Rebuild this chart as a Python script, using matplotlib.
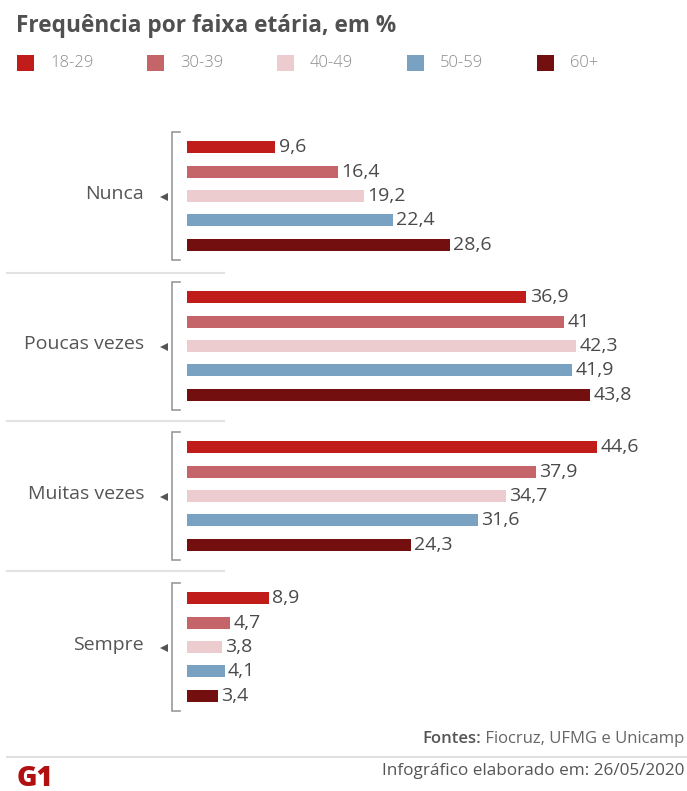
import matplotlib
matplotlib.use("Agg")
import matplotlib.pyplot as plt
from matplotlib.patches import Rectangle

plt.rcParams['font.family'] = ['Open Sans', 'DejaVu Sans']

categories = ["Nunca", "Poucas vezes", "Muitas vezes", "Sempre"]
age_groups = ["18-29", "30-39", "40-49", "50-59", "60+"]
values = {
    "18-29": [9.6, 36.9, 44.6, 8.9],
    "30-39": [16.4, 41, 37.9, 4.7],
    "40-49": [19.2, 42.3, 34.7, 3.8],
    "50-59": [22.4, 41.9, 31.6, 4.1],
    "60+":   [28.6, 43.8, 24.3, 3.4],
}
colors = {
    "18-29": "#C01D1A",
    "30-39": "#C5656A",
    "40-49": "#EDCCD0",
    "50-59": "#79A2C2",
    "60+":   "#73100F",
}
title = "Frequência por faixa etária, em %"
source_label = "Fontes:"
source_text = " Fiocruz, UFMG e Unicamp"
date_text = "Infográfico elaborado em: 26/05/2020"

W, H = 687, 791
fig = plt.figure(figsize=(W / 100, H / 100), dpi=100)
fig.patch.set_facecolor("white")

deco = fig.add_axes([0, 0, 1, 1])
deco.set_xlim(0, W)
deco.set_ylim(H, 0)
deco.axis("off")

x0 = 187
px_per_unit = 9.2
bar_ax = fig.add_axes([x0 / W, 0, (W - x0) / W, 1])
bar_ax.set_xlim(0, (W - x0) / px_per_unit)
bar_ax.set_ylim(H, 0)
bar_ax.axis("off")

group_centers = [196, 346, 496, 647]
row_step = 24.3
bar_h = 12

for gi, cat in enumerate(categories):
    c = group_centers[gi]
    for ai, ag in enumerate(age_groups):
        y = c + (ai - 2) * row_step
        v = values[ag][gi]
        bar_ax.barh(y, v, height=bar_h, color=colors[ag], edgecolor="none")
        lbl = f"{v:g}".replace(".", ",")
        bar_ax.text(v + 0.35, y, lbl, va="center", ha="left",
                    fontsize=14, color="#4a4a4a")
    deco.text(144, c - 2, cat, ha="right", va="center", fontsize=14, color="#555555")
    deco.plot([164], [c + 1], marker="<", markersize=6, color="#555555",
              markeredgewidth=0)
    top, bot = c - 64, c + 64
    deco.plot([180, 172, 172, 180], [top, top, bot, bot], color="#999999", lw=1.2,
              solid_joinstyle="miter")

for ys in [273, 421, 571]:
    deco.plot([7, 224], [ys, ys], color="#e2e2e2", lw=1.5)

deco.text(16, 32, title, ha="left", va="baseline", fontsize=16.3,
          fontweight="bold", color="#505050")

for i, ag in enumerate(age_groups):
    lx = 17 + 130 * i
    deco.add_patch(Rectangle((lx, 55), 17, 16, facecolor=colors[ag], edgecolor="none"))
    deco.text(lx + 33, 63, ag, ha="left", va="center", fontsize=12,
              color="#8a8a8a", fontweight="light")

t = deco.text(684, 739, source_text, ha="right", va="center", fontsize=12, color="#666666")
fig.canvas.draw()
bb = t.get_window_extent()
inv = deco.transData.inverted()
left_x = inv.transform((bb.x0, bb.y0))[0]
deco.text(left_x, 739, source_label, ha="right", va="center", fontsize=12,
          color="#555555", fontweight="semibold")

deco.plot([7, W], [757, 757], color="#e0e0e0", lw=1.5)
deco.text(684, 771, date_text, ha="right", va="center", fontsize=12.3, color="#555555")
deco.text(17, 778, "G1", ha="left", va="center", fontsize=20, fontweight="heavy",
          color="#B01010")

fig.savefig("out.png", dpi=100, facecolor="white")
